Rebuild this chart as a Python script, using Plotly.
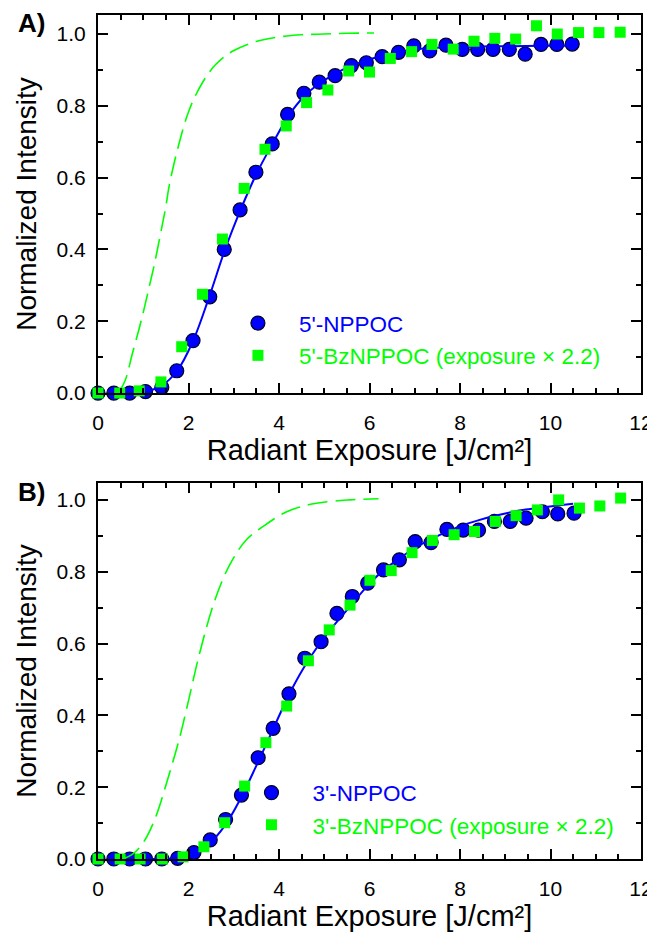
import plotly.graph_objects as go

# ---------------- Data ----------------
# Panel A
a_npp_x = [0.0, 0.35, 0.7, 1.05, 1.41, 1.74, 2.1, 2.47, 2.79, 3.14, 3.49, 3.85, 4.19, 4.55, 4.89,
           5.24, 5.6, 5.93, 6.28, 6.64, 6.98, 7.33, 7.69, 8.05, 8.39, 8.73, 9.09, 9.44, 9.79, 10.14, 10.48]
a_npp_y = [0.0, 0.0, 0.0, 0.004, 0.016, 0.062, 0.146, 0.268, 0.40, 0.51, 0.615, 0.694, 0.776, 0.835, 0.866,
           0.884, 0.912, 0.92, 0.937, 0.949, 0.967, 0.953, 0.969, 0.957, 0.957, 0.957, 0.957, 0.944, 0.971, 0.971, 0.972]
a_bz_x = [0.0, 0.48, 0.91, 1.39, 1.85, 2.31, 2.75, 3.23, 3.69, 4.16, 4.61, 5.08, 5.54, 6.0, 6.46,
          6.93, 7.38, 7.85, 8.31, 8.77, 9.23, 9.69, 10.15, 10.62, 11.07, 11.54]
a_bz_y = [0.0, 0.0, 0.006, 0.031, 0.129, 0.275, 0.429, 0.570, 0.679, 0.744, 0.809, 0.844, 0.897, 0.894, 0.932,
          0.951, 0.971, 0.958, 0.98, 0.988, 0.986, 1.023, 1.0, 1.004, 1.004, 1.005]
a_fit_x = [0.35, 0.7, 1.05, 1.4, 1.75, 2.1, 2.45, 2.8, 3.15, 3.5, 3.85, 4.2, 4.55, 4.9, 5.25, 5.6, 5.95,
           6.3, 6.65, 7.0, 7.7, 8.4, 9.1, 9.8, 10.5]
a_fit_y = [0.0, 0.0, 0.004, 0.02, 0.062, 0.145, 0.265, 0.397, 0.51, 0.61, 0.693, 0.77, 0.826, 0.863, 0.89, 0.912,
           0.927, 0.94, 0.95, 0.957, 0.963, 0.965, 0.966, 0.967, 0.967]
a_dash_x = [0.45, 0.6, 0.76, 0.9, 1.02, 1.13, 1.24, 1.4, 1.5, 1.57, 1.76, 2.02, 2.31, 2.6, 2.97, 3.49,
            4.0, 4.5, 5.0, 5.5, 6.1]
a_dash_y = [0.0, 0.035, 0.11, 0.175, 0.235, 0.295, 0.355, 0.455, 0.52, 0.575, 0.68, 0.79, 0.865, 0.915,
            0.952, 0.979, 0.992, 0.998, 1.0, 1.002, 1.003]

# Panel B
b_npp_x = [0.0, 0.35, 0.7, 1.05, 1.41, 1.76, 2.12, 2.48, 2.82, 3.17, 3.54, 3.87, 4.22, 4.57, 4.93,
           5.28, 5.62, 5.96, 6.31, 6.66, 7.01, 7.36, 7.71, 8.07, 8.41, 8.76, 9.11, 9.46, 9.82, 10.16, 10.52]
b_npp_y = [0.0, 0.0, 0.0, 0.0, 0.0, 0.002, 0.018, 0.053, 0.11, 0.178, 0.282, 0.364, 0.46, 0.559, 0.605,
           0.684, 0.731, 0.768, 0.805, 0.833, 0.884, 0.881, 0.918, 0.916, 0.916, 0.94, 0.94, 0.949, 0.967, 0.961, 0.963]
b_bz_x = [0.0, 0.49, 0.93, 1.42, 1.88, 2.34, 2.8, 3.24, 3.71, 4.17, 4.65, 5.11, 5.57, 6.01, 6.48,
          6.94, 7.39, 7.87, 8.32, 8.78, 9.24, 9.71, 10.18, 10.64, 11.09, 11.55]
b_bz_y = [0.0, 0.0, 0.0, 0.0, 0.006, 0.034, 0.101, 0.203, 0.324, 0.426, 0.552, 0.638, 0.707, 0.776, 0.803,
          0.853, 0.887, 0.903, 0.912, 0.94, 0.956, 0.972, 1.0, 0.977, 0.983, 1.005]
b_fit_x = [1.05, 1.4, 1.75, 2.1, 2.45, 2.8, 3.15, 3.5, 3.85, 4.2, 4.55, 4.9, 5.25, 5.6, 5.95, 6.3, 6.65,
           7.0, 7.35, 7.7, 8.05, 8.4, 8.75, 9.1, 9.45, 9.8, 10.15, 10.5]
b_fit_y = [0.0, 0.0, 0.003, 0.014, 0.042, 0.092, 0.168, 0.26, 0.356, 0.452, 0.533, 0.6, 0.656, 0.708, 0.76,
           0.803, 0.836, 0.866, 0.89, 0.911, 0.929, 0.943, 0.955, 0.965, 0.973, 0.979, 0.984, 0.989]
b_dash_x = [0.55, 0.75, 0.99, 1.25, 1.58, 1.8, 1.98, 2.25, 2.58, 2.91, 3.28, 3.65, 4.17, 4.76, 5.57, 6.2]
b_dash_y = [0.0, 0.012, 0.044, 0.109, 0.239, 0.336, 0.43, 0.575, 0.72, 0.819, 0.889, 0.926, 0.967, 0.989,
            1.0, 1.003]

names_a = ["5'-NPPOC", "5'-BzNPPOC (exposure × 2.2)"]
names_b = ["3'-NPPOC", "3'-BzNPPOC (exposure × 2.2)"]
x_title = "Radiant Exposure [J/cm²]"
y_title = "Normalized Intensity"
panel_labels = ["A)", "B)"]

BLUE = "#0000ff"
GREEN = "#00ff00"
FONT = "Liberation Sans, Arial, sans-serif"

fig = go.Figure()


def add_panel(xa, ya, leg, npp_x, npp_y, bz_x, bz_y, fit_x, fit_y, dash_x, dash_y, names):
    fig.add_trace(go.Scatter(x=npp_x, y=npp_y, mode="markers", xaxis=xa, yaxis=ya, legend=leg,
                             name=f"<span style='color:{BLUE}'>{names[0]}</span>", cliponaxis=False,
                             marker=dict(symbol="circle", size=14, color=BLUE,
                                         line=dict(color="#000022", width=1.2))))
    fig.add_trace(go.Scatter(x=fit_x, y=fit_y, mode="lines", xaxis=xa, yaxis=ya, showlegend=False,
                             line=dict(color=BLUE, width=2, shape="spline"), cliponaxis=False))
    fig.add_trace(go.Scatter(x=bz_x, y=bz_y, mode="markers", xaxis=xa, yaxis=ya, legend=leg,
                             name=f"<span style='color:{GREEN}'>{names[1]}</span>", cliponaxis=False,
                             marker=dict(symbol="square", size=11, color=GREEN, line=dict(width=0))))
    fig.add_trace(go.Scatter(x=dash_x, y=dash_y, mode="lines", xaxis=xa, yaxis=ya, showlegend=False,
                             line=dict(color=GREEN, width=1.6, dash="20px,8px", shape="spline"),
                             cliponaxis=False))


add_panel("x", "y", "legend", a_npp_x, a_npp_y, a_bz_x, a_bz_y, a_fit_x, a_fit_y, a_dash_x, a_dash_y, names_a)
add_panel("x2", "y2", "legend2", b_npp_x, b_npp_y, b_bz_x, b_bz_y, b_fit_x, b_fit_y, b_dash_x, b_dash_y, names_b)

common_x = dict(range=[0, 12], dtick=2, tick0=0, showline=True, linecolor="black", linewidth=2,
                mirror="allticks", ticks="inside", ticklen=10, tickwidth=2, tickcolor="black",
                minor=dict(ticks="inside", dtick=0.5, ticklen=5, tickwidth=1.5, tickcolor="black"),
                showgrid=False, zeroline=False, tickfont=dict(size=21, color="black"),
                ticklabelstandoff=10, automargin=False,
                title=dict(text=x_title, font=dict(size=29, color="black"), standoff=0))
common_y = dict(dtick=0.2, tick0=0, tickformat=".1f", showline=True, linecolor="black", linewidth=2,
                mirror="allticks", ticks="inside", ticklen=10, tickwidth=2, tickcolor="black",
                minor=dict(ticks="inside", dtick=0.1, ticklen=5, tickwidth=1.5, tickcolor="black"),
                showgrid=False, zeroline=False, tickfont=dict(size=21, color="black"),
                ticklabelstandoff=6, automargin=False,
                title=dict(text=y_title, font=dict(size=28, color="black"), standoff=12))

legend_common = dict(font=dict(size=22.5, family=FONT), bgcolor="rgba(0,0,0,0)", borderwidth=0,
                     itemwidth=72, xanchor="left", yanchor="top", tracegroupgap=0)

# The page body adds an 8 px offset, so the figure is 8 px smaller and its margins shifted.
fig.update_layout(
    width=647, height=924,
    margin=dict(l=90, r=14, t=7, b=73, autoexpand=False),
    paper_bgcolor="white", plot_bgcolor="white",
    font=dict(family=FONT, color="black"),
    xaxis=dict(common_x, domain=[0, 1], anchor="y"),
    yaxis=dict(common_y, domain=[0.5521, 1.0], range=[0, 1.053], anchor="x"),
    xaxis2=dict(common_x, domain=[0, 1], anchor="y2"),
    yaxis2=dict(common_y, domain=[0.0, 0.4455], range=[0, 1.047], anchor="x2"),
    legend=dict(legend_common, x=0.219, y=0.66),
    legend2=dict(legend_common, x=0.244, y=0.1037),
    annotations=[
        dict(text=f"<b>{panel_labels[0]}</b>", xref="paper", yref="paper", x=-0.123, y=0.991,
             xanchor="center", yanchor="middle", showarrow=False, font=dict(size=26, color="black")),
        dict(text=f"<b>{panel_labels[1]}</b>", xref="paper", yref="paper", x=-0.123, y=0.4345,
             xanchor="center", yanchor="middle", showarrow=False, font=dict(size=26, color="black")),
    ],
    showlegend=True,
)

fig.write_html("out.html")
